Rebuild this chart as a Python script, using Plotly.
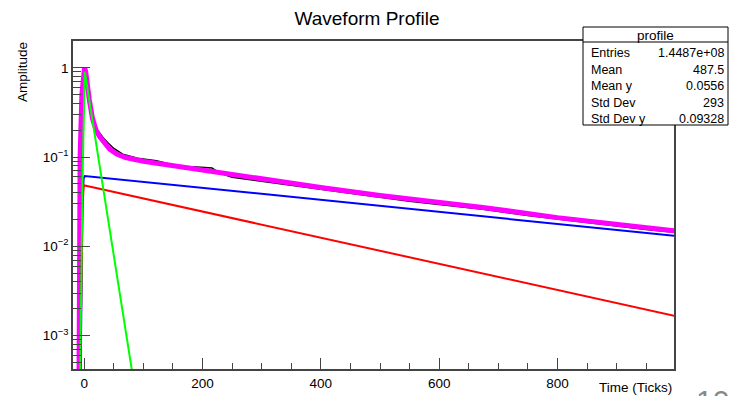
import plotly.graph_objects as go

# ---------------- data ----------------
data_t = [-9, -8, -6, -3, 0, 3, 8, 14, 20, 27, 32, 40, 50, 65, 90, 122, 160, 190,
          205, 216, 222, 235, 250, 300, 350, 400, 450, 500, 550, 600, 674, 750,
          800, 850, 900, 950, 1000]
data_amp = [2e-4, 0.01, 0.15, 0.6, 0.98, 0.85, 0.45, 0.28, 0.21, 0.18, 0.165, 0.145,
            0.125, 0.108, 0.097, 0.091, 0.079, 0.0775, 0.077, 0.0755, 0.071, 0.064,
            0.0595, 0.0535, 0.048, 0.0435, 0.039, 0.0355, 0.032, 0.0295, 0.026,
            0.0222, 0.0202, 0.0185, 0.017, 0.0155, 0.0143]

fit_t = [-9, -8.5, -7, -4, -1.5, 0.5, 2.5, 5, 8.5, 14, 20, 26, 35, 43, 55, 70, 100,
         130, 180, 300, 400, 500, 674, 800, 1005]
fit_amp = [2e-4, 0.01, 0.1, 0.5, 0.95, 1.0, 0.9, 0.62, 0.44, 0.27, 0.2, 0.17, 0.14,
           0.123, 0.108, 0.099, 0.09, 0.084, 0.0745, 0.0561, 0.0456, 0.0372, 0.0273,
           0.021, 0.0148]

fast_t = [-7.5, -2.5, 1, 88]
fast_amp = [2e-4, 0.077, 0.9, 2e-4]

slow_t = [-6.5, -3, -1, 1, 1005]
slow_amp = [2e-4, 0.03, 0.058, 0.0615, 0.0130]

mid_t = [-7.5, -5, -3, -1, 1005]
mid_amp = [2e-4, 0.005, 0.025, 0.0483, 0.00163]

y_tickvals = [1e-3, 1e-2, 1e-1, 1]
y_ticktext = ["10<sup>\u22123</sup>", "10<sup>\u22122</sup>", "10<sup>\u22121</sup>", "1"]
y_minor = [m * 10.0 ** e for e in (-4, -3, -2, -1, 0) for m in range(2, 10)]
x_tickvals = [0, 200, 400, 600, 800]

stats_title = "profile"
stats_labels = ["Entries", "Mean", "Mean y", "Std Dev", "Std Dev y"]
stats_values = ["1.4487e+08", "487.5", "0.0556", "293", "0.09328"]

# ---------------- layout helpers ----------------
W, H = 734, 396
L, R, T, B = 73, 674, 41, 369
FONT = "Liberation Sans, Arial, Helvetica, sans-serif"


def px(x):
    return (x - L) / (R - L)


def py(y):
    return (B - y) / (B - T)


fig = go.Figure()
fig.add_trace(go.Scatter(x=data_t, y=data_amp, mode="lines",
                         line=dict(color="black", width=1.5), showlegend=False))
fig.add_trace(go.Scatter(x=fit_t, y=fit_amp, mode="lines",
                         line=dict(color="#ff00ff", width=5), showlegend=False))
fig.add_trace(go.Scatter(x=slow_t, y=slow_amp, mode="lines",
                         line=dict(color="#0000ff", width=2), showlegend=False))
fig.add_trace(go.Scatter(x=mid_t, y=mid_amp, mode="lines",
                         line=dict(color="#ff0000", width=2), showlegend=False))
fig.add_trace(go.Scatter(x=fast_t, y=fast_amp, mode="lines",
                         line=dict(color="#00ff00", width=2), showlegend=False))

axis_col = "#444444"
fig.update_layout(
    width=W, height=H,
    margin=dict(l=L, r=W - R, t=T, b=H - B, pad=0, autoexpand=False),
    paper_bgcolor="white", plot_bgcolor="white",
    font=dict(family=FONT, size=13, color="black"),
    title=dict(text="Waveform Profile", x=0.5, xanchor="center",
               y=1 - 18 / H, yanchor="middle", yref="container",
               font=dict(size=19, family=FONT, color="black")),
    xaxis=dict(range=[-19, 997], showgrid=False, zeroline=False, automargin=False,
               showline=True, linecolor=axis_col, linewidth=1.5, mirror=True,
               ticks="inside", ticklen=11, tickwidth=1.2, tickcolor=axis_col,
               tickvals=x_tickvals, ticklabelstandoff=1,
               minor=dict(dtick=50, tick0=0, ticks="inside", ticklen=6,
                          tickcolor=axis_col, tickwidth=1.2),
               tickfont=dict(size=13.5)),
    yaxis=dict(type="log", range=[-3.373, 0.3], showgrid=False, zeroline=False,
               automargin=False,
               showline=True, linecolor=axis_col, linewidth=1.5, mirror=True,
               ticks="inside", ticklen=17, tickwidth=1.2, tickcolor=axis_col,
               tickvals=y_tickvals, ticktext=y_ticktext,
               minor=dict(tickvals=y_minor, ticks="inside", ticklen=8,
                          tickcolor=axis_col, tickwidth=1.2),
               tickfont=dict(size=13.5)),
)

# axis titles
fig.add_annotation(text="Amplitude", xref="paper", yref="paper",
                   x=px(22), y=py(72), textangle=-90, showarrow=False,
                   xanchor="center", yanchor="middle",
                   font=dict(size=13.5, family=FONT))
fig.add_annotation(text="Time (Ticks)", xref="paper", yref="paper",
                   x=px(674), y=py(387.5), xanchor="right", yanchor="middle",
                   showarrow=False, font=dict(size=13.5, family=FONT))

# stats box
bx0, bx1, by0, by1, hsep = 583, 728, 27, 125, 42
fig.add_shape(type="rect", xref="paper", yref="paper",
              x0=px(bx0), x1=px(bx1), y0=py(by1), y1=py(by0),
              line=dict(color="black", width=1), fillcolor="white", layer="above")
fig.add_shape(type="line", xref="paper", yref="paper",
              x0=px(bx0), x1=px(bx1), y0=py(hsep), y1=py(hsep),
              line=dict(color="black", width=1), layer="above")
fig.add_annotation(text=stats_title, xref="paper", yref="paper",
                   x=px((bx0 + bx1) / 2), y=py(35.5), showarrow=False,
                   xanchor="center", yanchor="middle",
                   font=dict(size=13.5, family=FONT))
row_centers = [53, 69.5, 86, 102.5, 118.5]
for yc, lab, val in zip(row_centers, stats_labels, stats_values):
    fig.add_annotation(text=lab, xref="paper", yref="paper", x=px(bx0 + 6),
                       y=py(yc), xanchor="left", yanchor="middle",
                       showarrow=False, font=dict(size=12.5, family=FONT))
    fig.add_annotation(text=val, xref="paper", yref="paper", x=px(bx1 - 2),
                       y=py(yc), xanchor="right", yanchor="middle",
                       showarrow=False, font=dict(size=12.5, family=FONT))

# slide page number, cut off at the bottom edge
fig.add_annotation(text="10", xref="paper", yref="paper", x=px(712),
                   y=py(382), xanchor="center", yanchor="top",
                   showarrow=False, font=dict(size=30, family=FONT, color="#888888"))

fig.write_html("out.html")
